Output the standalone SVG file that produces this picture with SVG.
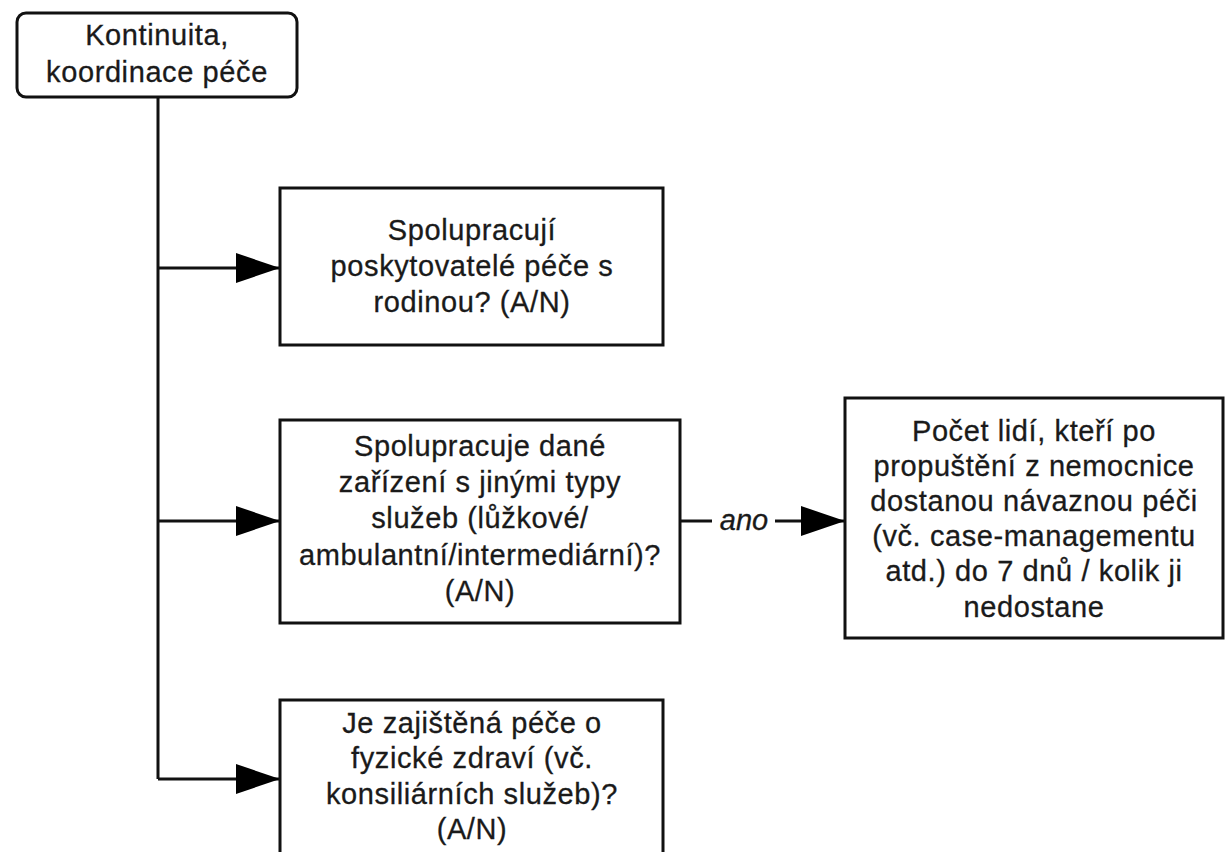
<svg xmlns="http://www.w3.org/2000/svg" width="1225" height="852" viewBox="0 0 1225 852">
  <style>
    .box { fill: #ffffff; stroke: #111111; stroke-width: 3; }
    .lbl { font-family: "Liberation Sans", Arial, sans-serif; font-size: 29px; letter-spacing: 0.6px; fill: #1a1a1a; stroke: #1a1a1a; stroke-width: 0.3; text-anchor: middle; }
    .edge { fill: none; stroke: #111111; stroke-width: 3; }
    .elbl { font-family: "Liberation Sans", Arial, sans-serif; font-size: 29px; font-style: italic; fill: #1a1a1a; stroke: #1a1a1a; stroke-width: 0.3; text-anchor: middle; }
  </style>
  <defs>
    <marker id="arrow" viewBox="0 0 44 30" refX="44" refY="15" markerWidth="44" markerHeight="30" markerUnits="userSpaceOnUse" orient="auto">
      <path d="M0 0 L44 15 L0 30 Z" fill="#000000"/>
    </marker>
  </defs>

  <rect width="1225" height="852" fill="#ffffff"/>

  <!-- connectors: trunk from the root, branches to each question, "ano" link -->
  <g id="connectors">
    <path class="edge" d="M158 97 V779"/>
    <path class="edge" d="M158 268 H280" marker-end="url(#arrow)"/>
    <path class="edge" d="M158 521 H280" marker-end="url(#arrow)"/>
    <path class="edge" d="M158 779 H280" marker-end="url(#arrow)"/>
    <path class="edge" d="M680 521 H712"/>
    <path class="edge" d="M775 521 H845" marker-end="url(#arrow)"/>
    <text class="elbl" x="744" y="530">ano</text>
  </g>

  <!-- root: continuity / coordination of care -->
  <g id="node-root">
    <rect class="box" x="17" y="13" width="280" height="84" rx="9" ry="9"/>
    <text class="lbl" x="157" y="45">Kontinuita,</text>
    <text class="lbl" x="157" y="82">koordinace péče</text>
  </g>

  <g id="node-family">
    <rect class="box" x="280" y="188" width="383" height="157"/>
    <text class="lbl" x="472" y="240">Spolupracují</text>
    <text class="lbl" x="472" y="276">poskytovatelé péče s</text>
    <text class="lbl" x="472" y="312">rodinou? (A/N)</text>
  </g>

  <g id="node-services">
    <rect class="box" x="280" y="420" width="400" height="203"/>
    <text class="lbl" x="480" y="456">Spolupracuje dané</text>
    <text class="lbl" x="480" y="492">zařízení s jinými typy</text>
    <text class="lbl" x="480" y="528">služeb (lůžkové/</text>
    <text class="lbl" x="480" y="565">ambulantní/intermediární)?</text>
    <text class="lbl" x="480" y="601">(A/N)</text>
  </g>

  <g id="node-discharge">
    <rect class="box" x="845" y="398" width="378" height="240"/>
    <text class="lbl" x="1034" y="441">Počet lidí, kteří po</text>
    <text class="lbl" x="1034" y="476">propuštění z nemocnice</text>
    <text class="lbl" x="1034" y="511">dostanou návaznou péči</text>
    <text class="lbl" x="1034" y="546">(vč. case-managementu</text>
    <text class="lbl" x="1034" y="581">atd.) do 7 dnů / kolik ji</text>
    <text class="lbl" x="1034" y="617">nedostane</text>
  </g>

  <g id="node-physical">
    <rect class="box" x="280" y="700" width="383" height="170"/>
    <text class="lbl" x="472" y="733">Je zajištěná péče o</text>
    <text class="lbl" x="472" y="768">fyzické zdraví (vč.</text>
    <text class="lbl" x="472" y="804">konsiliárních služeb)?</text>
    <text class="lbl" x="472" y="839">(A/N)</text>
  </g>
</svg>
